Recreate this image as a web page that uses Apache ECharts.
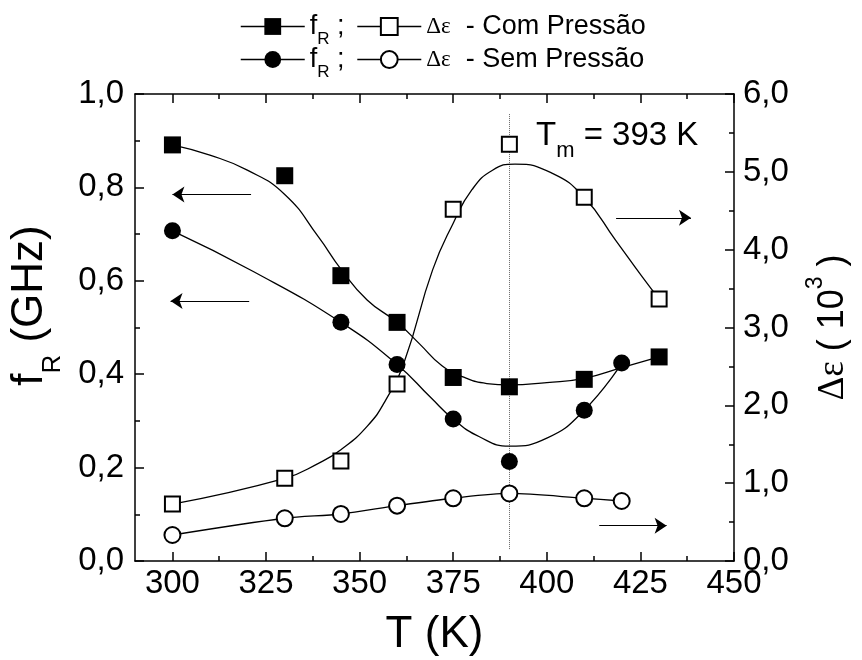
<!DOCTYPE html>
<html lang="pt">
<head>
<meta charset="UTF-8">
<title>fR e Δε em função de T</title>
<script src="https://cdn.jsdelivr.net/npm/echarts@6/dist/echarts.min.js"></script>
</head>
<body style="margin:0;background:#fff;">
<div id="main" style="width:862px;height:660px;"></div>
<script>
// pontos medidos
var tCom = [300, 330, 345, 360, 375, 390, 410, 430];
var fRCom = [0.891, 0.825, 0.611, 0.511, 0.393, 0.373, 0.389, 0.437];
var deCom = [0.732, 1.062, 1.285, 2.274, 4.519, 5.354, 4.673, 3.366];
var tFRSem = [300, 345, 360, 375, 390, 410, 420];
var fRSem = [0.707, 0.511, 0.421, 0.304, 0.213, 0.323, 0.424];
var tDeSem = [300, 330, 345, 360, 375, 390, 410, 420];
var deSem = [0.334, 0.549, 0.604, 0.711, 0.806, 0.868, 0.806, 0.771];

// curvas de ajuste
var ajFRComT = [300, 310, 320, 330, 339, 345, 352, 360, 366, 372, 378, 384, 390, 400, 410, 420, 430];
var ajFRCom = [0.891, 0.869, 0.837, 0.785, 0.694, 0.625, 0.559, 0.511, 0.465, 0.418, 0.393, 0.380, 0.377, 0.382, 0.391, 0.414, 0.437];
var ajFRSemT = [300, 321.6, 345, 360, 369, 375, 382, 390, 400, 410, 420];
var ajFRSem = [0.707, 0.620, 0.511, 0.421, 0.350, 0.304, 0.266, 0.246, 0.263, 0.323, 0.423];
var ajDeComT = [300, 330, 339, 345, 352, 357, 362, 369.5, 375, 380, 385.5, 391.5, 401.5, 410, 418.4, 425.5, 430];
var ajDeCom = [0.732, 1.062, 1.255, 1.43, 1.73, 2.07, 2.57, 3.74, 4.34, 4.77, 5.02, 5.10, 4.98, 4.67, 4.12, 3.65, 3.366];

// setas e linha de Tm
var setasEsq = [[[321, 0.785], [300, 0.785]], [[320.5, 0.557], [299.5, 0.557]]];
var setasDir = [[[418.5, 4.41], [438.5, 4.41]], [[414, 0.454], [432, 0.454]]];
var linhaTm = [[[390, 0.957], [390, 0.024]]];

var xTicks = [300, 325, 350, 375, 400, 425, 450];
var xMinor = [312.5, 337.5, 362.5, 387.5, 412.5, 437.5];

var fonte = 'Liberation Sans, Arial, sans-serif';
var preto = '#000';

function pares(xs, ys) {
    return xs.map(function (x, i) { return [x, ys[i]]; });
}
function virgula(v) {
    return v.toFixed(1).replace('.', ',');
}

var nomesLegenda = {
    fRCom: '{f|f}{r|R}{t| ;}',
    deCom: '{d|Δε}{t|  - Com Pressão}',
    fRSem: '{f|f}{r|R}{t| ;}',
    deSem: '{d|Δε}{t|  - Sem Pressão}'
};
var textoLegenda = {
    color: preto, fontFamily: fonte, fontSize: 27,
    rich: {
        f: {fontSize: 27, verticalAlign: 'middle'},
        r: {fontSize: 17, verticalAlign: 'bottom', padding: [26, 0, 0, 0]},
        t: {fontSize: 27, verticalAlign: 'middle'},
        d: {fontSize: 23, fontFamily: 'Liberation Serif, serif', verticalAlign: 'middle'}
    }
};
function legenda(dados, topo) {
    return {
        data: dados, left: 235, top: topo,
        itemWidth: 64, itemHeight: 21, itemGap: 12,
        selectedMode: false,
        formatter: function (n) { return nomesLegenda[n]; },
        textStyle: textoLegenda,
        lineStyle: {color: preto, width: 1.5, opacity: 1}
    };
}

var eixoLinha = {show: true, onZero: false, lineStyle: {color: preto, width: 1.5}};
var tickEstilo = {color: preto, width: 1.5};

function eixoX(grade, pos, valores, comprimento, rotulos) {
    var ax = {
        type: 'value', gridIndex: grade, position: pos, min: 290, max: 450,
        axisLine: grade === 0 ? eixoLinha : {show: false},
        axisTick: {show: true, inside: true, length: comprimento, customValues: valores, lineStyle: tickEstilo},
        axisLabel: {show: false},
        splitLine: {show: false}
    };
    if (rotulos) {
        ax.axisLabel = {show: true, customValues: xTicks, color: preto, fontFamily: fonte, fontSize: 33, margin: 6};
        ax.name = 'T (K)';
        ax.nameLocation = 'middle';
        ax.nameGap = 52;
        ax.nameMoveOverlap = false;
        ax.nameTextStyle = {color: preto, fontFamily: fonte, fontSize: 44};
    }
    return ax;
}

function curva(nome, eixoY, xs, ys) {
    return {
        name: nome, type: 'line', xAxisIndex: 0, yAxisIndex: eixoY, z: 2,
        data: pares(xs, ys), smooth: 0.5, symbol: 'none',
        lineStyle: {color: preto, width: 1.3}
    };
}

var chart = echarts.init(document.getElementById('main'));

var option = {
    backgroundColor: '#fff',
    animation: false,
    legend: [legenda(['fRCom', 'deCom'], 8), legenda(['fRSem', 'deSem'], 41)],
    grid: [
        {left: 135, right: 128, top: 94, bottom: 99, outerBoundsMode: 'none'},
        {left: 135, right: 128, top: 94, bottom: 99, outerBoundsMode: 'none'}
    ],
    xAxis: [
        eixoX(0, 'bottom', xTicks, 9, true),
        eixoX(0, 'top', xTicks, 9, false),
        eixoX(1, 'bottom', xMinor, 5, false),
        eixoX(1, 'top', xMinor, 5, false)
    ],
    yAxis: [
        {
            type: 'value', gridIndex: 0, position: 'left', min: 0, max: 1, interval: 0.2,
            axisLine: eixoLinha,
            axisTick: {show: true, inside: true, length: 9, lineStyle: tickEstilo},
            minorTick: {show: true, splitNumber: 2, length: 5, lineStyle: tickEstilo},
            axisLabel: {color: preto, fontFamily: fonte, fontSize: 33, margin: 11, formatter: virgula},
            splitLine: {show: false},
            name: '{f|f}{r|R}{g| (GHz)}',
            nameLocation: 'middle', nameGap: 69, nameMoveOverlap: false,
            nameTextStyle: {
                color: preto, fontFamily: fonte, fontSize: 44,
                padding: [0, 0, 0, 44],
                rich: {
                    f: {fontSize: 44, verticalAlign: 'middle'},
                    r: {fontSize: 26, verticalAlign: 'bottom', padding: [46, 0, 0, 0]},
                    g: {fontSize: 44, verticalAlign: 'middle'}
                }
            }
        },
        {
            type: 'value', gridIndex: 0, position: 'right', min: 0, max: 6, interval: 1,
            axisLine: eixoLinha,
            axisTick: {show: true, inside: true, length: 9, lineStyle: tickEstilo},
            minorTick: {show: true, splitNumber: 2, length: 5, lineStyle: tickEstilo},
            axisLabel: {color: preto, fontFamily: fonte, fontSize: 33, margin: 9, formatter: virgula},
            splitLine: {show: false},
            name: '{d|Δε}{p| ( 10}{s|3}{p| )}',
            nameLocation: 'middle', nameGap: 70, nameMoveOverlap: false,
            nameTextStyle: {
                color: preto, fontFamily: fonte, fontSize: 36,
                rich: {
                    d: {fontSize: 37, fontFamily: 'Liberation Serif, serif', verticalAlign: 'middle'},
                    p: {fontSize: 36, verticalAlign: 'middle'},
                    s: {fontSize: 23, verticalAlign: 'top', padding: [0, 0, 35, 0]}
                }
            }
        },
        {type: 'value', gridIndex: 1, min: 0, max: 1, show: false}
    ],
    graphic: [{
        type: 'text', left: 536, top: 119,
        style: {
            text: '{t|T}{m|m}{t| = 393 K}',
            fill: preto, fontFamily: fonte, fontSize: 33,
            rich: {
                t: {fontSize: 33, verticalAlign: 'middle'},
                m: {fontSize: 22, verticalAlign: 'bottom', padding: [30, 0, 0, 0]}
            }
        }
    }],
    series: [
        curva('ajFRCom', 0, ajFRComT, ajFRCom),
        curva('ajFRSem', 0, ajFRSemT, ajFRSem),
        curva('ajDeCom', 1, ajDeComT, ajDeCom),
        {
            name: 'fRCom', type: 'line', xAxisIndex: 0, yAxisIndex: 0, z: 4,
            data: pares(tCom, fRCom), symbol: 'rect', symbolSize: 17,
            itemStyle: {color: preto}, lineStyle: {width: 0}
        },
        {
            name: 'deCom', type: 'line', xAxisIndex: 0, yAxisIndex: 1, z: 4,
            data: pares(tCom, deCom), symbol: 'emptyRect', symbolSize: 15,
            itemStyle: {color: preto, borderWidth: 1.6}, lineStyle: {width: 0}
        },
        {
            name: 'fRSem', type: 'line', xAxisIndex: 0, yAxisIndex: 0, z: 4,
            data: pares(tFRSem, fRSem), symbol: 'circle', symbolSize: 17,
            itemStyle: {color: preto}, lineStyle: {width: 0}
        },
        {
            name: 'deSem', type: 'line', xAxisIndex: 0, yAxisIndex: 1, z: 4,
            data: pares(tDeSem, deSem), symbol: 'emptyCircle', symbolSize: 16, smooth: 0.3,
            itemStyle: {color: preto, borderWidth: 1.6}, lineStyle: {color: preto, width: 1.3}
        },
        {
            name: 'setasEsq', type: 'lines', coordinateSystem: 'cartesian2d', xAxisIndex: 0, yAxisIndex: 0, z: 3,
            data: setasEsq.map(function (s) { return {coords: s}; }),
            symbol: ['none', 'arrow'], symbolSize: [7, 12],
            lineStyle: {color: preto, width: 1.2, opacity: 1}
        },
        {
            name: 'setasDir', type: 'lines', coordinateSystem: 'cartesian2d', xAxisIndex: 0, yAxisIndex: 1, z: 3,
            data: setasDir.map(function (s) { return {coords: s}; }),
            symbol: ['none', 'arrow'], symbolSize: [7, 12],
            lineStyle: {color: preto, width: 1.2, opacity: 1}
        },
        {
            name: 'Tm', type: 'lines', coordinateSystem: 'cartesian2d', xAxisIndex: 0, yAxisIndex: 0, z: 1,
            data: linhaTm.map(function (s) { return {coords: s}; }),
            symbol: 'none',
            lineStyle: {color: '#666', width: 1, type: [1, 1], opacity: 1}
        }
    ]
};

chart.setOption(option);
window.onresize = function () {
    chart.resize();
};
</script>
</body>
</html>
